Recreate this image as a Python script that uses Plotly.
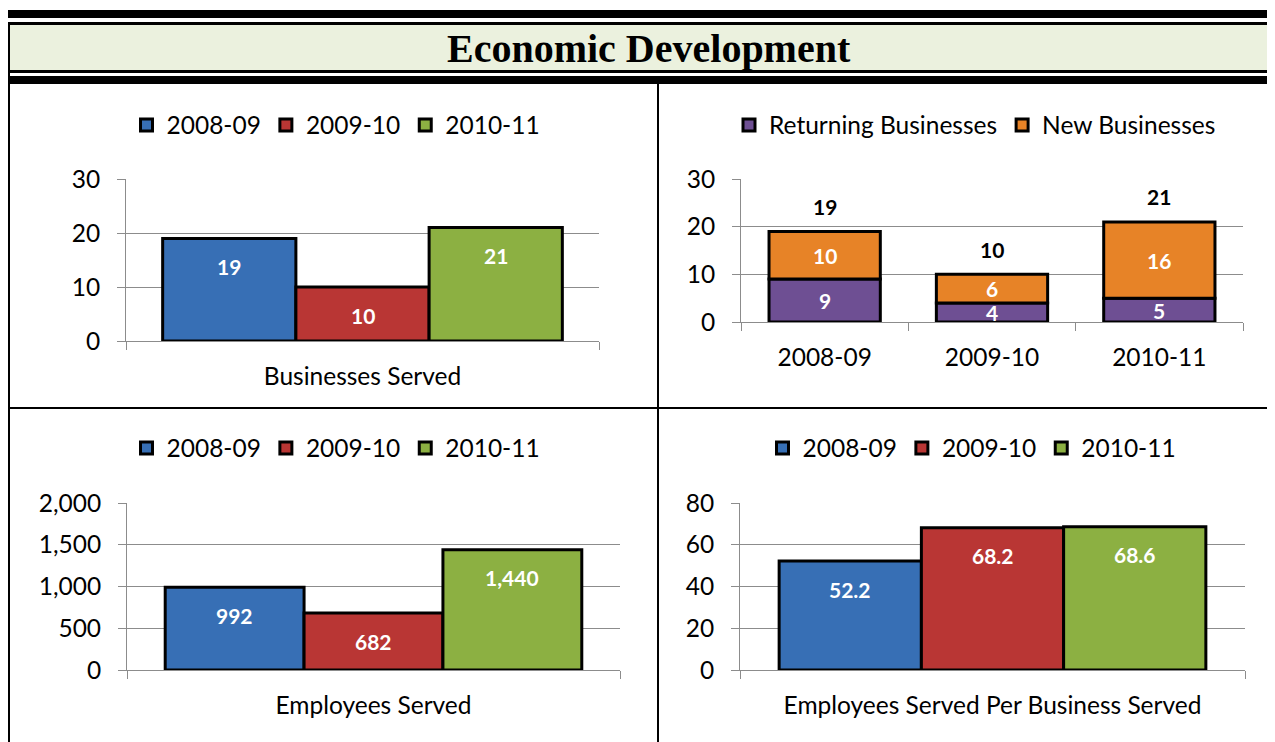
import plotly.graph_objects as go

# The page body has an 8px margin, so the figure is drawn 8px in from the corner.
OFF = 8
W, H = 1275 - OFF, 742 - OFF
FONT = "Lato"
GRID = "#8c8c8c"

# ---------------- data ----------------
seasons = ["2008-09", "2009-10", "2010-11"]
season_colors = ["#376fb5", "#b93634", "#8cb042"]

businesses_served = [19, 10, 21]
employees_served = [992, 682, 1440]
employees_per_business = [52.2, 68.2, 68.6]

stack_names = ["Returning Businesses", "New Businesses"]
stack_colors = ["#6e4f93", "#e78327"]
returning_businesses = [9, 4, 5]
new_businesses = [10, 6, 16]

cat_businesses = "Businesses Served"
cat_employees = "Employees Served"
cat_per_business = "Employees Served Per Business Served"

title_text = "Economic Development"


def px_x(p):
    return (p - OFF) / W


def px_y(p):
    return 1 - (p - OFF) / H


fig = go.Figure()

group_bargap = 0.155
bw = (1 - group_bargap) / 3
LABEL = 21
TICK = 24.5


def grouped(values, cat, xa, ya, legend, fmt):
    for i, (s, v, c) in enumerate(zip(seasons, values, season_colors)):
        off = -1.5 * bw + i * bw
        fig.add_trace(go.Bar(
            x=[cat], y=[v], name=s, offset=off, width=bw,
            marker=dict(color=c, line=dict(color="black", width=3)),
            xaxis=xa, yaxis=ya, legend=legend, hoverinfo="skip"))
        fig.add_annotation(
            x=off + bw / 2, y=v, xref=xa, yref=ya, text="<b>" + fmt(v) + "</b>",
            showarrow=False, yshift=-28, yanchor="middle", xanchor="center",
            font=dict(color="white", size=LABEL, family=FONT))


grouped(businesses_served, cat_businesses, "x", "y", "legend", lambda v: f"{v:,}")
grouped(employees_served, cat_employees, "x3", "y3", "legend3", lambda v: f"{v:,}")
grouped(employees_per_business, cat_per_business, "x4", "y4", "legend4", lambda v: f"{v:.1f}")

# stacked panel
w2 = 1 - 0.335
fig.add_trace(go.Bar(
    x=seasons, y=returning_businesses, name=stack_names[0], offset=-w2 / 2, width=w2,
    marker=dict(color=stack_colors[0], line=dict(color="black", width=3)),
    xaxis="x2", yaxis="y2", legend="legend2", hoverinfo="skip"))
fig.add_trace(go.Bar(
    x=seasons, y=new_businesses, base=returning_businesses, name=stack_names[1],
    offset=-w2 / 2, width=w2,
    marker=dict(color=stack_colors[1], line=dict(color="black", width=3)),
    xaxis="x2", yaxis="y2", legend="legend2", hoverinfo="skip"))
for s, r, n in zip(seasons, returning_businesses, new_businesses):
    fig.add_annotation(x=s, y=r / 2, xref="x2", yref="y2", text=f"<b>{r}</b>",
                       showarrow=False, yanchor="middle", xanchor="center",
                       font=dict(color="white", size=LABEL, family=FONT))
    fig.add_annotation(x=s, y=r + n / 2, xref="x2", yref="y2", text=f"<b>{n}</b>",
                       showarrow=False, yanchor="middle", xanchor="center",
                       font=dict(color="white", size=LABEL, family=FONT))
    fig.add_annotation(x=s, y=r + n, xref="x2", yref="y2", text=f"<b>{r + n}</b>",
                       showarrow=False, yshift=25, yanchor="middle", xanchor="center",
                       font=dict(color="black", size=LABEL, family=FONT))

tickfont = dict(family=FONT, size=TICK, color="black")


def yax(y0, y1, rng, dtick, anchor):
    return dict(domain=[px_y(y1), px_y(y0)], range=rng, dtick=dtick, tickformat=",",
                showgrid=True, gridcolor=GRID, gridwidth=1, showline=True, linecolor=GRID,
                linewidth=1, ticks="outside", ticklen=8, tickcolor=GRID, tickfont=tickfont,
                zeroline=False, fixedrange=True, anchor=anchor, ticklabelstandoff=12,
                automargin=False)


def xax(x0, x1, n, anchor):
    return dict(domain=[px_x(x0), px_x(x1)], type="category", tickson="boundaries",
                ticks="outside", ticklen=8, tickcolor=GRID, showline=True, linecolor=GRID,
                linewidth=1, tickfont=tickfont, anchor=anchor, range=[-0.5, n - 0.5],
                fixedrange=True, showgrid=False, ticklabelstandoff=14, automargin=False)


def leg(xc, yc):
    return dict(orientation="h", x=px_x(xc), y=px_y(yc), xanchor="center", yanchor="middle",
                font=dict(family=FONT, size=TICK, color="black"), bgcolor="rgba(0,0,0,0)",
                itemclick=False, itemdoubleclick=False, traceorder="normal")


shapes = []


def rect(x0, y0, x1, y1, color):
    shapes.append(dict(type="rect", xref="paper", yref="paper",
                       x0=px_x(x0), x1=px_x(x1), y0=px_y(y1), y1=px_y(y0),
                       fillcolor=color, line=dict(width=0), layer="below"))


rect(9, 25, 1275, 70, "#ebf1de")
rect(8, 10, 1275, 18, "black")
rect(8, 22, 1275, 25, "black")
rect(8, 70, 1275, 73, "black")
rect(8, 76, 1275, 84, "black")
rect(8, 22, 10, 742, "black")
rect(657, 84, 659, 742, "black")
rect(8, 407, 1275, 409, "black")

fig.add_annotation(x=px_x(649), y=px_y(48), xref="paper", yref="paper",
                   xanchor="center", yanchor="middle",
                   text="<b>" + title_text + "</b>", showarrow=False,
                   font=dict(family="Liberation Serif", size=40, color="black"))

fig.update_layout(
    width=W, height=H, autosize=False,
    margin=dict(l=0, r=0, t=0, b=0, pad=0, autoexpand=False),
    paper_bgcolor="white", plot_bgcolor="white", barmode="overlay",
    showlegend=True, shapes=shapes,
    xaxis=xax(126, 599, 1, "y"), yaxis=yax(179, 341, [0, 30], 10, "x"),
    xaxis2=xax(741, 1243, 3, "y2"), yaxis2=yax(179, 322, [0, 30], 10, "x2"),
    xaxis3=xax(127, 620, 1, "y3"), yaxis3=yax(503, 670, [0, 2000], 500, "x3"),
    xaxis4=xax(740, 1245, 1, "y4"), yaxis4=yax(503, 670, [0, 80], 20, "x4"),
    legend=leg(336, 125), legend2=leg(975, 125), legend3=leg(336, 448), legend4=leg(972, 448),
)

fig.write_html("out.html")
